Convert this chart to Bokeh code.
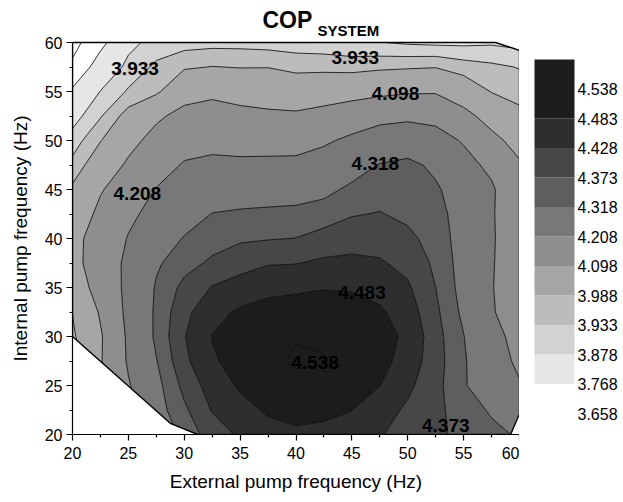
import math
import numpy as np
from bokeh.plotting import figure
from bokeh.models import Range1d, FixedTicker
from bokeh.layouts import row
from bokeh.core.properties import value
from bokeh.embed import file_html
from bokeh.resources import INLINE

FONT = "Liberation Sans"

# grid of external (x) and internal (y) pump frequencies, Hz
ext_freq = [20, 22.5, 25, 27.5, 30, 32.5, 35, 37.5, 40, 42.5, 45, 47.5, 50, 52.5, 55, 57.5, 60]
int_freq = [20, 22.5, 25, 27.5, 30, 32.5, 35, 37.5, 40, 42.5, 45, 47.5, 50, 52.5, 55, 57.5, 60]

# COP values, one list per internal frequency (rows, bottom to top)
cop_y20 = [3.80, 3.95, 4.10, 4.25, 4.34, 4.398, 4.437, 4.465, 4.475, 4.47, 4.46, 4.432, 4.408, 4.384, 4.359, 4.335, 4.31]
cop_y22 = [3.85, 4.00, 4.15, 4.29, 4.363, 4.432, 4.467, 4.49, 4.497, 4.495, 4.484, 4.452, 4.419, 4.386, 4.348, 4.31, 4.25]
cop_y25 = [3.90, 4.05, 4.20, 4.298, 4.389, 4.454, 4.49, 4.51, 4.525, 4.522, 4.505, 4.484, 4.44, 4.391, 4.325, 4.27, 4.215]
cop_y27 = [3.93, 4.09, 4.219, 4.315, 4.416, 4.476, 4.505, 4.527, 4.544, 4.540, 4.522, 4.50, 4.462, 4.396, 4.326, 4.253, 4.19]
cop_y30 = [3.975, 4.088, 4.223, 4.331, 4.425, 4.485, 4.51, 4.525, 4.535, 4.533, 4.52, 4.50, 4.474, 4.394, 4.32, 4.235, 4.18]
cop_y32 = [3.99, 4.108, 4.232, 4.33, 4.413, 4.467, 4.49, 4.505, 4.513, 4.513, 4.505, 4.49, 4.457, 4.385, 4.304, 4.214, 4.17]
cop_y35 = [4.045, 4.134, 4.233, 4.325, 4.389, 4.431, 4.456, 4.467, 4.472, 4.48, 4.478, 4.467, 4.436, 4.373, 4.294, 4.212, 4.16]
cop_y37 = [4.07, 4.145, 4.23, 4.309, 4.352, 4.383, 4.403, 4.424, 4.426, 4.438, 4.441, 4.434, 4.412, 4.362, 4.291, 4.215, 4.15]
cop_y40 = [4.07, 4.14, 4.213, 4.271, 4.323, 4.35, 4.366, 4.370, 4.374, 4.393, 4.405, 4.406, 4.387, 4.35, 4.29, 4.219, 4.14]
cop_y42 = [4.03, 4.122, 4.189, 4.238, 4.281, 4.32, 4.328, 4.332, 4.335, 4.347, 4.369, 4.376, 4.36, 4.339, 4.29, 4.218, 4.13]
cop_y45 = [4.00, 4.09, 4.152, 4.212, 4.255, 4.275, 4.278, 4.283, 4.287, 4.30, 4.332, 4.348, 4.346, 4.327, 4.282, 4.222, 4.12]
cop_y47 = [3.95, 4.036, 4.113, 4.166, 4.216, 4.228, 4.225, 4.228, 4.230, 4.249, 4.285, 4.322, 4.335, 4.304, 4.24, 4.186, 4.11]
cop_y50 = [3.904, 3.985, 4.068, 4.131, 4.171, 4.181, 4.175, 4.172, 4.172, 4.195, 4.227, 4.255, 4.273, 4.245, 4.20, 4.127, 4.061]
cop_y52 = [3.851, 3.928, 4.015, 4.082, 4.127, 4.135, 4.125, 4.116, 4.112, 4.129, 4.153, 4.181, 4.188, 4.182, 4.129, 4.058, 4.007]
cop_y55 = [3.785, 3.88, 3.94, 3.975, 4.06, 4.08, 4.062, 4.052, 4.043, 4.053, 4.064, 4.076, 4.089, 4.09, 4.041, 3.985, 3.964]
cop_y57 = [3.68, 3.82, 3.895, 3.945, 3.98, 3.99, 3.985, 3.986, 3.97, 3.97, 3.965, 3.975, 3.98, 3.985, 3.96, 3.945, 3.93]
cop_y60 = [3.62, 3.74, 3.86, 3.90, 3.91, 3.915, 3.915, 3.91, 3.905, 3.90, 3.89, 3.88, 3.87, 3.865, 3.865, 3.87, 3.86]

# contour levels and colours (lowest band first)
levels = [3.658, 3.768, 3.878, 3.933, 3.988, 4.098, 4.208, 4.318, 4.373, 4.428, 4.483, 4.538]
level_labels = ["3.658", "3.768", "3.878", "3.933", "3.988", "4.098", "4.208", "4.318", "4.373", "4.428", "4.483", "4.538"]
band_colors = ["#FFFFFF", "#E6E6E6", "#D2D2D2", "#BCBCBC", "#A6A6A6", "#8E8E8E",
               "#787878", "#5E5E5E", "#474747", "#2E2E2E", "#1C1C1C", "#1C1C1C"]
below_color = "#FFFFFF"
low_bound, high_bound = 3.5, 4.6

# boundary of the measured domain
hull_x = [20, 28.8, 31.2, 59.2, 60, 60, 57.85, 20]
hull_y = [30, 21.1, 20, 20, 22.1, 59.2, 60, 60]

# contour value labels
clabel_text = ["3.933", "3.933", "4.098", "4.318", "4.208", "4.483", "4.538", "4.373"]
clabel_x = [25.6, 45.3, 48.9, 47.1, 25.8, 45.9, 41.7, 53.4]
clabel_y = [57.3, 58.5, 54.8, 47.7, 44.6, 34.5, 27.3, 20.9]

title_main, title_sub = "COP", "SYSTEM"
x_title = "External pump frequency (Hz)"
y_title = "Internal pump frequency (Hz)"

# ---------------- layout (pixels) ----------------
W, H = 620, 500
LEFT_W = 40                       # strip holding the y-axis title
FRAME_L, FRAME_R, FRAME_T, FRAME_B = 72, 519, 42, 434   # data area
CB_L, CB_R = 534, 574             # colour scale column
CB_TOP, CB_SLOT = 59.0, 29.5      # colour scale top and slot height
BOTTOM = H - FRAME_B

X = np.array(ext_freq, dtype=float)
Y = np.array(int_freq, dtype=float)
Z = np.array([cop_y20, cop_y22, cop_y25, cop_y27, cop_y30, cop_y32, cop_y35, cop_y37,
              cop_y40, cop_y42, cop_y45, cop_y47, cop_y50, cop_y52, cop_y55, cop_y57, cop_y60])

sx = (FRAME_R - FRAME_L) / (X[-1] - X[0])
sy = (FRAME_B - FRAME_T) / (Y[-1] - Y[0])


def px2x(px):
    return float(X[0] + (px - FRAME_L) / sx)


def py2y(py):
    return float(Y[0] + (FRAME_B - py) / sy)


def common(fig):
    fig.outline_line_color = None
    fig.xgrid.visible = False
    fig.ygrid.visible = False
    fig.background_fill_color = "white"
    fig.border_fill_color = "white"


# ---------- left strip with y title ----------
left = figure(width=LEFT_W, height=H, x_range=Range1d(0, LEFT_W), y_range=Range1d(0, FRAME_B),
              output_backend="svg", toolbar_location=None, x_axis_location=None, y_axis_location=None,
              min_border_left=0, min_border_right=0, min_border_top=0, min_border_bottom=BOTTOM)
common(left)
left.text(x=[20], y=[FRAME_B - (FRAME_T + FRAME_B) / 2], text=[y_title], angle=math.pi / 2,
          text_font=value(FONT), text_font_size="19px", text_align="center",
          text_baseline="middle", text_color="black")

# ---------- main contour plot ----------
p = figure(width=FRAME_R - LEFT_W, height=H,
           x_range=Range1d(float(X[0]), float(X[-1])), y_range=Range1d(float(Y[0]), py2y(0)),
           output_backend="svg", toolbar_location=None,
           min_border_left=FRAME_L - LEFT_W, min_border_right=0, min_border_top=0,
           min_border_bottom=BOTTOM)
common(p)

all_levels = [low_bound] + levels + [high_bound]
fills = [below_color] + band_colors
p.contour(X, Y, Z, all_levels, fill_color=fills, line_color="black", line_width=0.8)

frame_x = [float(X[0]), float(X[-1]), float(X[-1]), float(X[0])]
frame_y = [float(Y[0]), float(Y[0]), float(Y[-1]), float(Y[-1])]
p.multi_polygons(xs=[[[frame_x, hull_x]]], ys=[[[frame_y, hull_y]]],
                 fill_color="white", line_color=None)
p.patch(hull_x, hull_y, fill_color=None, line_color="black", line_width=1.4)

p.text(x=clabel_x, y=clabel_y, text=clabel_text, text_font=value(FONT),
       text_font_size="19px", text_font_style="bold", text_align="center",
       text_baseline="middle", text_color="black")

major = [20, 25, 30, 35, 40, 45, 50, 55, 60]
minor = [22.5, 27.5, 32.5, 37.5, 42.5, 47.5, 52.5, 57.5]
for ax in (p.xaxis[0], p.yaxis[0]):
    ax.bounds = (float(X[0]), float(X[-1]))
    ax.ticker = FixedTicker(ticks=major, minor_ticks=minor)
    ax.major_tick_in = 0
    ax.major_tick_out = 6
    ax.minor_tick_in = 0
    ax.minor_tick_out = 3
    ax.axis_line_width = 1.2
    ax.major_tick_line_width = 1.2
    ax.minor_tick_line_width = 1.2
    ax.major_label_text_font = FONT
    ax.major_label_text_font_size = "16px"
    ax.major_label_text_color = "black"
    ax.axis_label_text_font = FONT
    ax.axis_label_text_font_size = "19px"
    ax.axis_label_text_font_style = "normal"
    ax.axis_label_text_color = "black"
p.xaxis.axis_label = x_title
p.xaxis.major_label_standoff = 6
p.xaxis.axis_label_standoff = 9
p.yaxis.major_label_standoff = 4

# title (COP with subscript)
p.text(x=[px2x(262)], y=[py2y(19)], text=[title_main], text_font=value(FONT),
       text_font_size="23px", text_font_style="bold", text_baseline="alphabetic",
       text_align="left", text_color="black")
p.text(x=[px2x(317)], y=[py2y(30)], text=[title_sub], text_font=value(FONT),
       text_font_size="15px", text_font_style="bold", text_baseline="alphabetic",
       text_align="left", text_color="black")

# ---------- colour scale ----------
cb = figure(width=W - FRAME_R, height=H, x_range=Range1d(FRAME_R, W), y_range=Range1d(0, FRAME_B),
            output_backend="svg", toolbar_location=None, x_axis_location=None, y_axis_location=None,
            min_border_left=0, min_border_right=0, min_border_top=0, min_border_bottom=BOTTOM)
common(cb)
n = len(levels)
slot_bottom = [FRAME_B - (CB_TOP + CB_SLOT * (n - i)) for i in range(n)]
slot_top = [FRAME_B - (CB_TOP + CB_SLOT * (n - i - 1)) for i in range(n)]
cb.quad(left=CB_L, right=CB_R, bottom=slot_bottom, top=slot_top,
        fill_color=band_colors, line_color=None)
cb.text(x=[CB_R + 3] * n, y=slot_bottom, text=level_labels, text_font=value(FONT),
        text_font_size="16px", text_align="left", text_baseline="middle", text_color="black")

layout = row(left, p, cb)
open("out.html", "w").write(file_html(layout, INLINE))
